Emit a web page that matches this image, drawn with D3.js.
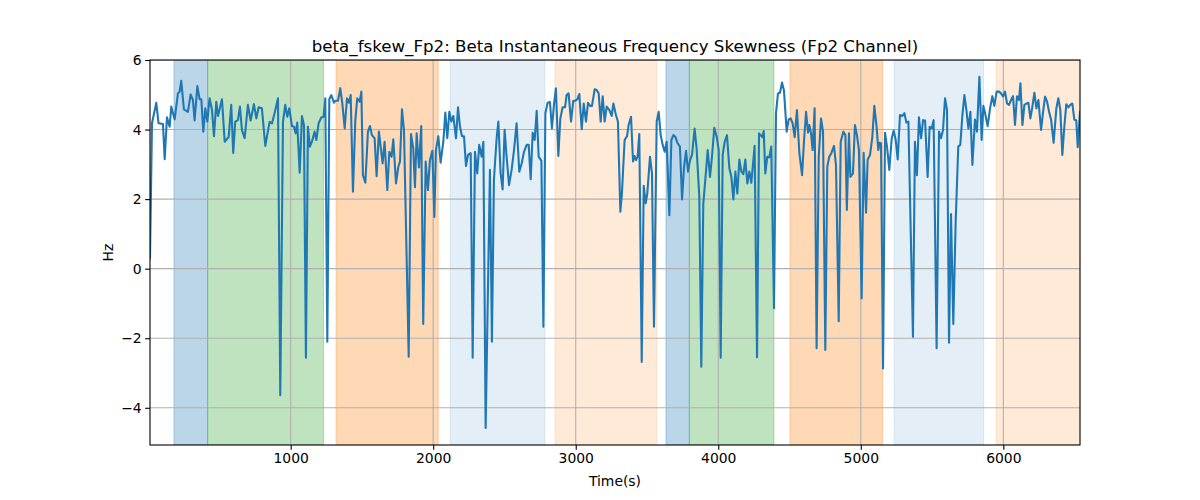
<!DOCTYPE html>
<html><head><meta charset="utf-8">
<script src="https://cdn.jsdelivr.net/npm/d3@7"></script>
<style>body{margin:0;background:#fff}svg{display:block}text{font-family:"DejaVu Sans",sans-serif}</style>
</head><body><svg id="c" width="1200" height="500"></svg>
<script>
const title = "beta_fskew_Fp2: Beta Instantaneous Frequency Skewness (Fp2 Channel)";
const xLabel = "Time(s)";
const yLabel = "Hz";
const xTicks = [1000, 2000, 3000, 4000, 5000, 6000];
const yTicks = [-4, -2, 0, 2, 4, 6];
const xRange = [13, 6538];
const yRange = [-5.07, 6];

// shaded epochs
const spanStart = [181, 417.5, 1318, 2118, 2854, 3633, 3797, 4503, 5233, 5949];
const spanEnd   = [417.5, 1231, 2035.5, 2784, 3568, 3797, 4391, 5154, 5862, 6560];
const spanKind  = ["blue", "green", "orange", "blueLight", "orangeLight", "blue", "green", "orange", "blueLight", "orangeLight"];

const times = [
13,27,57,73,104,116,132,151,162,186,
209,221,232,251,279,298,314,326,345,361,
373,387,401,415,431,448,462,478,490,518,
537,565,583,597,611,630,644,658,677,700,
719,742,759,775,798,822,852,869,887,911,
927,946,962,976,990,1009,1023,1035,1046,1063,
1079,1093,1107,1121,1135,1149,1168,1180,1196,1215,
1231,1243,1257,1271,1285,1304,1313,1332,1348,1362,
1379,1395,1409,1421,1437,1453,1467,1484,1496,1507,
1524,1542,1556,1570,1589,1603,1619,1645,1659,1678,
1692,1708,1720,1739,1755,1767,1781,1795,1828,1844,
1860,1872,1884,1900,1916,1930,1947,1963,1977,1994,
2008,2019,2036,2052,2071,2085,2099,2113,2127,2141,
2160,2174,2188,2202,2216,2230,2244,2263,2277,2293,
2309,2323,2340,2352,2368,2398,2412,2426,2445,2457,
2473,2487,2501,2515,2532,2550,2567,2585,2604,2621,
2637,2656,2670,2684,2698,2712,2726,2740,2759,2773,
2787,2803,2819,2833,2847,2861,2878,2892,2908,2925,
2936,2950,2967,2983,2997,3011,3025,3042,3056,3072,
3086,3100,3114,3133,3147,3161,3175,3189,3203,3217,
3236,3252,3264,3282,3296,3313,3324,3343,3360,3371,
3388,3402,3413,3423,3434,3446,3463,3477,3491,3502,
3521,3535,3549,3568,3582,3596,3610,3624,3638,3657,
3671,3685,3699,3713,3731,3746,3760,3774,3788,3802,
3816,3834,3848,3867,3881,3895,3909,3926,3942,3956,
3972,3989,4003,4017,4031,4045,4061,4078,4092,4106,
4120,4134,4148,4162,4176,4190,4204,4218,4232,4255,
4272,4286,4297,4309,4319,4330,4344,4358,4372,4391,
4405,4419,4433,4447,4461,4480,4494,4508,4522,4536,
4552,4569,4588,4602,4616,4630,4639,4651,4662,4676,
4690,4705,4721,4735,4751,4765,4779,4793,4812,4826,
4845,4859,4878,4892,4902,4917,4927,4945,4959,4973,
4987,5006,5020,5037,5048,5065,5081,5095,5111,5123,
5132,5142,5156,5170,5184,5200,5217,5231,5245,5259,
5275,5292,5306,5320,5334,5366,5380,5394,5408,5423,
5437,5451,5469,5483,5497,5511,5532,5549,5563,5577,
5591,5605,5619,5633,5649,5666,5684,5698,5713,5727,
5741,5755,5769,5783,5801,5815,5832,5848,5860,5872,
5890,5907,5923,5937,5953,5970,5984,5998,6012,6026,
6040,6054,6068,6082,6096,6110,6120,6134,6148,6164,
6176,6190,6204,6218,6232,6246,6265,6279,6293,6307,
6321,6335,6353,6372,6386,6400,6414,6428,6442,6456,
6470,6484,6498,6512,6522,6538];

const values = [
0.3,4.18,4.77,4.18,4.16,3.15,4.35,4.08,4.66,4.29,
5.04,5.09,5.4,4.58,4.51,5.01,4.85,4.26,5.25,4.87,
4.87,3.94,4.61,4.23,4.9,4.56,3.81,4.8,4.39,4.87,
3.65,3.79,4.71,3.33,4.23,4.27,4.66,3.99,3.75,4.71,
4.26,4.73,4.32,4.64,4.61,3.53,4.22,4.18,4.47,4.9,
-3.64,4.23,4.71,4.37,4.61,4.1,4.08,3.89,4.2,2.76,
4.39,4.13,-2.56,4.08,3.51,3.65,3.94,3.7,4.18,4.35,
4.37,4.9,-2.1,4.87,4.99,4.77,4.83,4.83,5.19,4.77,
4.03,4.9,4.77,4.99,2.21,4.23,4.9,4.8,5.09,2.69,
2.47,3.94,4.1,3.84,3.75,2.66,3.94,3.03,3.65,2.26,
3.36,3.22,3.72,2.45,2.93,3.08,4.58,3.99,-2.53,3.87,
3.46,2.34,3.89,2.91,4.1,-1.59,3.08,2.26,3.12,3.39,
1.49,3.41,3.81,3.05,3.65,4.49,3.75,4.51,4.23,4.39,
3.75,4.64,4.08,3.81,3.81,2.95,3.27,3.32,-2.56,3.36,
2.74,3.56,3.22,3.65,-4.58,2.84,-2.1,2.55,3.75,4.23,
2.74,2.28,3.99,3.22,2.4,2.84,3.41,4.18,2.79,3.03,
3.36,3.56,3.56,2.57,3.91,3.7,4.54,3.22,3.1,-1.67,
4.47,4.77,4.79,4.03,4.71,5.19,3.24,4.32,4.64,4.64,
4.99,5.04,4.23,4.83,4.83,4.87,5.02,4.01,4.75,4.23,
4.77,4.68,4.68,5.16,5.14,5.04,4.23,4.96,4.23,4.66,
4.56,4.39,4.75,4.42,4.23,1.64,2.16,3.7,3.81,4.13,
4.37,3.08,3.24,3.12,3.22,3.87,-2.68,2.38,1.88,2.16,
3.22,2.74,-1.67,4.23,4.51,3.84,3.56,3.36,3.65,1.54,
3.7,3.84,3.79,3.62,3.51,1.99,2.93,3.39,2.79,3.12,
3.27,4.03,3.46,2.07,-2.82,1.88,2.55,3.41,2.64,3.22,
4.05,3.79,3.41,-2.56,3.27,3.65,3.84,2.88,2.64,1.99,
2.79,2.16,3.14,2.79,2.72,3.14,2.45,2.79,2.47,3.53,
-2.55,3.89,3.84,3.78,3.96,2.74,3.22,3.2,3.51,-1.14,
4.47,5.04,5.06,5.35,5.12,3.94,4.29,4.32,4.18,3.78,
4.56,3.32,2.69,3.7,4.51,3.91,4.13,3.89,3.41,4.61,
-2.29,3.22,4.32,3.94,-2.34,2.93,3.22,3.32,3.53,2.98,
-1.51,3.65,3.94,3.84,1.69,3.89,2.64,2.74,4.13,3.84,
3.41,-0.86,3.33,1.61,3.14,3.27,3.79,4.68,4.08,3.41,
3.62,3.6,-2.87,3.91,3.51,2.84,3.75,3.97,3.7,3.14,
4.42,4.39,4.47,4.2,4.23,-1.96,3.65,2.69,4.35,3.75,
4.27,4.26,2.64,4.08,4.03,4.27,-2.29,3.94,3.75,3.99,
4.9,4.56,-2.13,1.57,-1.59,1.4,3.51,3.56,4.42,4.99,
4.56,4.03,4.51,2.98,4.29,3.94,5.52,3.7,4.68,4.47,
4.1,4.61,4.96,4.68,5.09,5.09,5.04,4.95,5.09,4.75,
4.71,4.85,4.96,4.13,4.96,4.85,5.33,4.13,4.71,4.75,
4.77,4.32,4.66,5.06,4.61,4.85,3.99,4.51,4.95,4.8,
4.51,4.29,3.62,4.61,4.9,4.56,3.27,4.08,4.73,4.64,
4.71,4.75,4.29,4.26,3.49,4.51];

// styles
const spanStyle = {
  blue:        {color: "#1f77b4", alpha: 0.3},
  green:       {color: "#2ca02c", alpha: 0.3},
  orange:      {color: "#ff7f0e", alpha: 0.3},
  blueLight:   {color: "#1f77b4", alpha: 0.12},
  orangeLight: {color: "#ff7f0e", alpha: 0.16}
};

const m = {left: 150, right: 1080, top: 60, bottom: 445};
const svg = d3.select("#c");
const x = d3.scaleLinear().domain(xRange).range([m.left, m.right]);
const y = d3.scaleLinear().domain(yRange).range([m.bottom, m.top]);

svg.append("defs").append("clipPath").attr("id", "clip")
  .append("rect").attr("x", m.left).attr("y", m.top)
  .attr("width", m.right - m.left).attr("height", m.bottom - m.top);

const plot = svg.append("g").attr("clip-path", "url(#clip)");

// spans
const spans = d3.range(spanStart.length).map(i => ({s: spanStart[i], e: spanEnd[i], k: spanKind[i]}));
plot.append("g").selectAll("rect").data(spans).join("rect")
  .attr("x", d => x(d.s)).attr("width", d => x(d.e) - x(d.s))
  .attr("y", m.top).attr("height", m.bottom - m.top)
  .attr("fill", d => spanStyle[d.k].color)
  .attr("fill-opacity", d => spanStyle[d.k].alpha)
  .attr("stroke", d => spanStyle[d.k].color)
  .attr("stroke-opacity", d => spanStyle[d.k].alpha)
  .attr("stroke-width", 1);

// grid
const grid = plot.append("g").attr("stroke", "#b0b0b0").attr("stroke-width", 1.1);
grid.selectAll(".gx").data(xTicks).join("line")
  .attr("x1", d => x(d)).attr("x2", d => x(d)).attr("y1", m.top).attr("y2", m.bottom);
grid.selectAll(".gy").data(yTicks).join("line")
  .attr("y1", d => y(d)).attr("y2", d => y(d)).attr("x1", m.left).attr("x2", m.right);

// line
const pts = d3.zip(times, values);
plot.append("path").datum(pts)
  .attr("fill", "none").attr("stroke", "#1f77b4").attr("stroke-width", 2.08)
  .attr("stroke-linejoin", "round").attr("stroke-linecap", "square")
  .attr("d", d3.line().x(d => x(d[0])).y(d => y(d[1])));

// axes
const fmt = d => (d < 0 ? "\u2212" + Math.abs(d) : String(d));
const xAxis = svg.append("g").attr("transform", `translate(0,${m.bottom})`)
  .call(d3.axisBottom(x).tickValues(xTicks).tickFormat(fmt).tickSize(4.86).tickPadding(3.5).tickSizeOuter(0));
const yAxis = svg.append("g").attr("transform", `translate(${m.left},0)`)
  .call(d3.axisLeft(y).tickValues(yTicks).tickFormat(fmt).tickSize(4.86).tickPadding(3.5).tickSizeOuter(0));
[xAxis, yAxis].forEach(a => {
  a.select(".domain").remove();
  a.selectAll(".tick line").attr("stroke", "#000").attr("stroke-width", 1.1);
  a.selectAll(".tick text").attr("fill", "#000").style("font-size", "13.9px").style("font-family", "DejaVu Sans");
});

// frame
svg.append("rect").attr("x", m.left).attr("y", m.top)
  .attr("width", m.right - m.left).attr("height", m.bottom - m.top)
  .attr("fill", "none").attr("stroke", "#000").attr("stroke-width", 1.1);

// labels
svg.append("text").attr("x", (m.left + m.right) / 2).attr("y", 52)
  .attr("text-anchor", "middle").style("font-size", "16.67px").text(title);
svg.append("text").attr("x", (m.left + m.right) / 2).attr("y", 486)
  .attr("text-anchor", "middle").style("font-size", "13.9px").text(xLabel);
svg.append("text").attr("transform", `translate(113,${(m.top + m.bottom) / 2}) rotate(-90)`)
  .attr("text-anchor", "middle").style("font-size", "13.9px").text(yLabel);
</script></body></html>
